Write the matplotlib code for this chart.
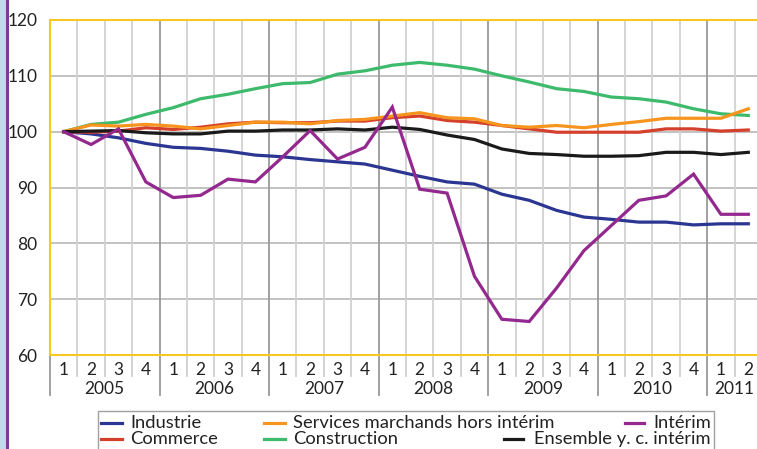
import matplotlib.pyplot as plt
from matplotlib.transforms import blended_transform_factory
from matplotlib.lines import Line2D
from matplotlib.patches import Rectangle

plt.rcParams['font.family'] = ['Lato', 'DejaVu Sans']

# trimestres 2005T1 .. 2011T2
years = ['2005', '2006', '2007', '2008', '2009', '2010', '2011']
quarters_per_year = [4, 4, 4, 4, 4, 4, 2]

industrie = [100, 99.6, 98.9, 97.9, 97.2, 97.0, 96.5, 95.8, 95.5, 95.0, 94.6, 94.2, 93.1,
             92.0, 91.0, 90.6, 88.8, 87.7, 85.9, 84.7, 84.3, 83.8, 83.8, 83.3, 83.5, 83.5]
commerce = [100, 99.9, 100.1, 100.7, 100.4, 100.8, 101.4, 101.7, 101.6, 101.6, 101.9, 101.9, 102.5,
            102.8, 102.0, 101.7, 101.1, 100.5, 99.9, 99.9, 99.9, 99.9, 100.5, 100.5, 100.1, 100.3]
services = [100, 101.2, 101.0, 101.3, 101.0, 100.5, 101.1, 101.7, 101.7, 101.4, 102.0, 102.2, 102.8,
            103.4, 102.5, 102.3, 101.1, 100.8, 101.1, 100.7, 101.3, 101.8, 102.4, 102.4, 102.4, 104.1]
construction = [100, 101.3, 101.7, 103.1, 104.3, 105.9, 106.7, 107.7, 108.6, 108.8, 110.3, 110.9, 111.9,
                112.4, 111.9, 111.2, 110.0, 108.9, 107.7, 107.2, 106.2, 105.9, 105.3, 104.1, 103.2, 102.9]
interim = [100, 97.7, 100.5, 91.0, 88.2, 88.6, 91.5, 91.0, 95.5, 100.2, 95.1, 97.2, 104.4,
           89.7, 89.0, 74.1, 66.4, 66.0, 72.0, 78.7, 83.2, 87.7, 88.5, 92.4, 85.2, 85.2]
ensemble = [100, 100.1, 100.2, 99.8, 99.6, 99.6, 100.1, 100.1, 100.3, 100.3, 100.5, 100.3, 100.8,
            100.4, 99.4, 98.6, 96.9, 96.1, 95.9, 95.6, 95.6, 95.7, 96.3, 96.3, 95.9, 96.3]

series = [
    ('Construction', construction, '#3dba6b'),
    ('Industrie', industrie, '#2b3592'),
    ('Commerce', commerce, '#d4402b'),
    ('Services marchands hors intérim', services, '#f7941e'),
    ('Ensemble y. c. intérim', ensemble, '#1a1a1a'),
    ('Intérim', interim, '#93288e'),
]
colors = {name: c for name, _, c in series}

W, H = 757, 449
fig = plt.figure(figsize=(W / 100, H / 100), dpi=100)

# bande à gauche
fig.patches.append(Rectangle((0, 0), 5.5 / W, 1, transform=fig.transFigure,
                             facecolor='#c9d7ec', edgecolor='none'))
fig.add_artist(Line2D([7 / W, 7 / W], [0, 1], transform=fig.transFigure,
                      color='#7b3c9c', lw=2.2))

left, right, top, bottom = 50, 762, 20, 355
ax = fig.add_axes([left / W, 1 - bottom / H, (right - left) / W, (bottom - top) / H])

n = len(industrie)
x = list(range(n))
for name, vals, c in series:
    ax.plot(x, vals, color=c, lw=2.3, solid_joinstyle='miter', zorder=3)

ax.set_xlim(-0.5, n - 0.5)
ax.set_ylim(60, 120)
ax.set_yticks([60, 70, 80, 90, 100, 110, 120])
ax.tick_params(axis='y', length=0, labelsize=12.5, colors='#222222', pad=9)
ax.set_xticks([])

for y in [70, 80, 90, 100, 110]:
    ax.axhline(y, color='#bdbdbd', lw=1.3, zorder=1)

# grille verticale : trimestres clairs, années foncées
boundaries = []
pos = 0
for q in quarters_per_year:
    boundaries.append(pos)
    pos += q
for i in range(1, n):
    is_year = i in boundaries
    ax.axvline(i - 0.5, color='#9a9a9a' if is_year else '#d2d2d2', lw=1.3, zorder=1)

ax.spines['right'].set_visible(False)
for side in ['top', 'bottom', 'left']:
    ax.spines[side].set_color('#f5c823')
    ax.spines[side].set_linewidth(1.5)
    ax.spines[side].set_zorder(2)

# axe des abscisses à deux niveaux
trans = blended_transform_factory(ax.transData, ax.transAxes)
pos = 0
for yr, q in zip(years, quarters_per_year):
    for k in range(q):
        ax.text(pos + k, -0.045, str(k + 1), transform=trans, ha='center', va='center',
                fontsize=12.5, color='#222222')
        if k > 0:
            ax.plot([pos + k - 0.5] * 2, [0, -0.062], transform=trans, color='#cfcfcf',
                    lw=1.3, clip_on=False)
    ax.plot([pos - 0.5] * 2, [0, -0.12], transform=trans, color='#9a9a9a', lw=1.3, clip_on=False)
    ax.text(pos + (q - 1) / 2, -0.102, yr, transform=trans, ha='center', va='center',
            fontsize=12.5, color='#222222')
    pos += q


# légende
def fx(px):
    return px / W


def fy(py):
    return 1 - py / H


fig.patches.append(Rectangle((fx(98), fy(460)), fx(714) - fx(98), fy(411) - fy(460),
                             transform=fig.transFigure, facecolor='white',
                             edgecolor='#a0a0a0', lw=1.0))
rows = [423, 439]
legend_left = [('Industrie', 101, 0), ('Commerce', 101, 1),
               ('Services marchands hors intérim', 264, 0), ('Construction', 264, 1)]
for name, hx, r in legend_left:
    fig.add_artist(Line2D([fx(hx), fx(hx + 21)], [fy(rows[r])] * 2, transform=fig.transFigure,
                          color=colors[name], lw=2.3))
    fig.text(fx(hx + 29), fy(rows[r]), name, ha='left', va='center', fontsize=13.2,
             color='#222222')
legend_right = [('Intérim', 625, 0), ('Ensemble y. c. intérim', 504, 1)]
for name, hx, r in legend_right:
    fig.add_artist(Line2D([fx(hx), fx(hx + 19)], [fy(rows[r])] * 2, transform=fig.transFigure,
                          color=colors[name], lw=2.3))
    fig.text(fx(711), fy(rows[r]), name, ha='right', va='center', fontsize=13.2,
             color='#222222')

fig.savefig('out.png', dpi=100)
